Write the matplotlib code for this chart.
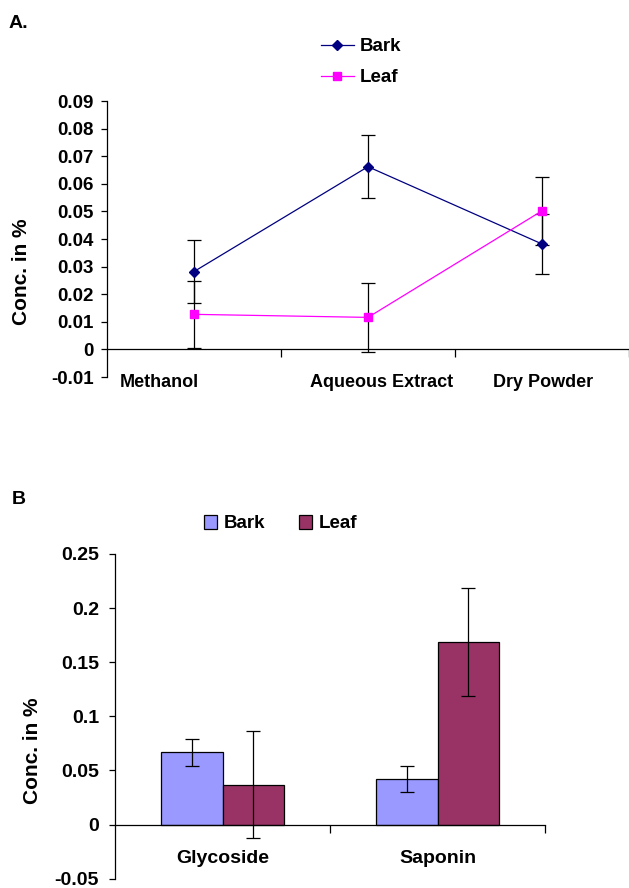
import matplotlib
matplotlib.use("Agg")
import matplotlib.pyplot as plt
import matplotlib.transforms as mtransforms
import numpy as np

plt.rcParams['font.family'] = ['Liberation Sans', 'DejaVu Sans']
plt.rcParams['font.weight'] = 'bold'

# ---- Panel A data ----
a_categories = ["Methanol", "Aqueous Extract", "Dry Powder"]
a_bark = [0.0282, 0.0662, 0.0382]
a_bark_err = [0.0114, 0.0113, 0.0110]
a_leaf = [0.0127, 0.0116, 0.0502]
a_leaf_err = [0.0121, 0.0125, 0.0122]
a_yticks = [-0.01, 0, 0.01, 0.02, 0.03, 0.04, 0.05, 0.06, 0.07, 0.08, 0.09]

# ---- Panel B data ----
b_categories = ["Glycoside", "Saponin"]
b_bark = [0.0666, 0.0422]
b_bark_err = [0.0123, 0.0119]
b_leaf = [0.0367, 0.1686]
b_leaf_err = [0.0494, 0.0498]
b_yticks = [-0.05, 0, 0.05, 0.1, 0.15, 0.2, 0.25]

W, H = 629, 888
fig = plt.figure(figsize=(W / 100, H / 100), dpi=100)


def fx(px):
    return px / W


def fy(py):
    return 1 - py / H


# ================= Panel A =================
axA = fig.add_axes([fx(107), fy(377), fx(629) - fx(107), fy(101) - fy(377)])
xa = np.arange(len(a_categories)) + 0.5
axA.errorbar(xa, a_bark, yerr=a_bark_err, fmt='none', ecolor='black',
             elinewidth=0.9, capsize=5, capthick=0.9, zorder=2)
axA.errorbar(xa, a_leaf, yerr=a_leaf_err, fmt='none', ecolor='black',
             elinewidth=0.9, capsize=5, capthick=0.9, zorder=2)
axA.plot(xa, a_bark, color='#000080', marker='D', markersize=5, lw=0.9,
         label='Bark', zorder=3)
axA.plot(xa, a_leaf, color='#FF00FF', marker='s', markersize=5.5, lw=0.9,
         label='Leaf', zorder=3)
axA.set_xlim(0, len(a_categories))
axA.set_ylim(-0.01, 0.09)
axA.set_yticks(a_yticks)
axA.set_yticklabels(['-0.01', '0'] + ['%.2f' % v for v in a_yticks[2:]])
for s in ['top', 'right']:
    axA.spines[s].set_visible(False)
axA.spines['bottom'].set_position(('data', 0))
axA.spines['left'].set_linewidth(0.9)
axA.spines['bottom'].set_linewidth(0.9)
axA.set_xticks(xa)
axA.set_xticklabels(a_categories)
axA.set_xticks(np.arange(1, len(a_categories) + 1), minor=True)
axA.tick_params(axis='x', which='major', length=0, pad=17.5, labelsize=13)
axA.tick_params(axis='x', which='minor', length=6, width=0.9, direction='out')
axA.tick_params(axis='y', length=4.5, width=0.9, pad=5, labelsize=13.5)
for lab in axA.get_yticklabels() + axA.get_xticklabels():
    lab.set_fontweight('bold')
offsets_px = [-35, 14, 1]
for lab, off in zip(axA.get_xticklabels(), offsets_px):
    lab.set_transform(lab.get_transform() +
                      mtransforms.ScaledTranslation(off / 100, 0, fig.dpi_scale_trans))

legA = fig.legend(loc='upper left', bbox_to_anchor=(fx(321), fy(38)),
                  frameon=False, fontsize=13.5, handlelength=1.75,
                  handletextpad=0.3, labelspacing=0.75, borderpad=0,
                  borderaxespad=0)
for t in legA.get_texts():
    t.set_fontweight('bold')

fig.text(fx(9), fy(23), "A.", fontsize=14, fontweight='bold', va='center', ha='left')
fig.text(fx(22), fy(271.5), "Conc. in %", fontsize=15, fontweight='bold',
         rotation=90, ha='center', va='center')

# ================= Panel B =================
axB = fig.add_axes([fx(115), fy(878.7), fx(545) - fx(115), fy(554) - fy(878.7)])
xb = np.arange(len(b_categories)) + 0.5
bw = 0.288
axB.bar(xb - bw / 2, b_bark, width=bw, color='#9999FF', edgecolor='black',
        linewidth=0.9, label='Bark', zorder=2)
axB.bar(xb + bw / 2, b_leaf, width=bw, color='#993366', edgecolor='black',
        linewidth=0.9, label='Leaf', zorder=2)
axB.errorbar(xb - bw / 2, b_bark, yerr=b_bark_err, fmt='none', ecolor='black',
             elinewidth=0.9, capsize=5, capthick=0.9, zorder=3)
axB.errorbar(xb + bw / 2, b_leaf, yerr=b_leaf_err, fmt='none', ecolor='black',
             elinewidth=0.9, capsize=5, capthick=0.9, zorder=3)
axB.set_xlim(0, len(b_categories))
axB.set_ylim(-0.05, 0.25)
axB.set_yticks(b_yticks)
axB.set_yticklabels(['-0.05', '0', '0.05', '0.1', '0.15', '0.2', '0.25'])
for s in ['top', 'right']:
    axB.spines[s].set_visible(False)
axB.spines['bottom'].set_position(('data', 0))
axB.spines['left'].set_linewidth(0.9)
axB.spines['bottom'].set_linewidth(0.9)
axB.set_xticks(xb)
axB.set_xticklabels(b_categories)
axB.set_xticks(np.arange(1, len(b_categories) + 1), minor=True)
axB.tick_params(axis='x', which='major', length=0, pad=18.5, labelsize=14)
axB.tick_params(axis='x', which='minor', length=6, width=0.9, direction='out')
axB.tick_params(axis='y', length=4.5, width=0.9, pad=7, labelsize=14)
for lab in axB.get_yticklabels() + axB.get_xticklabels():
    lab.set_fontweight('bold')

legB = fig.legend(handles=axB.get_legend_handles_labels()[0],
                  labels=axB.get_legend_handles_labels()[1],
                  loc='upper left', bbox_to_anchor=(fx(204), fy(515)),
                  ncol=2, frameon=False, fontsize=13.5, handlelength=0.7,
                  handleheight=0.75, handletextpad=0.35, columnspacing=1.8,
                  borderpad=0, borderaxespad=0)
for t in legB.get_texts():
    t.set_fontweight('bold')

fig.text(fx(12), fy(499), "B", fontsize=14, fontweight='bold', va='center', ha='left')
fig.text(fx(32), fy(751), "Conc. in %", fontsize=15, fontweight='bold',
         rotation=90, ha='center', va='center')

fig.savefig("out.png", dpi=100)
